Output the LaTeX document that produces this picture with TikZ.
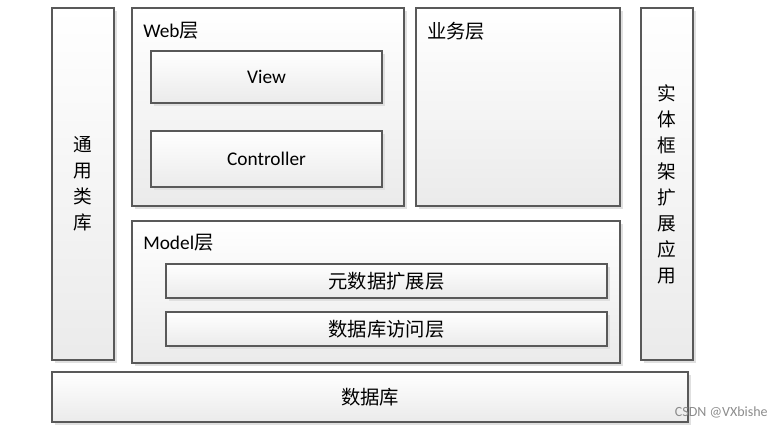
\documentclass[tikz,border=0pt]{standalone}
\usepackage{fontspec}
\setmainfont{Carlito}
\newfontfamily\cjk{Noto Sans CJK SC}
\usetikzlibrary{shadows}

\tikzset{
  layer/.style={draw=black!65, line width=0.8pt, top color=white, bottom color=black!8,
    drop shadow={shadow xshift=2.5pt, shadow yshift=-2.5pt, fill=black!12, opacity=1},
    inner sep=0pt, font=\fontsize{14.5}{17}\selectfont},
  size/.style 2 args={minimum width=#1*0.75pt, minimum height=#2*0.75pt},
  title/.style={anchor=west, inner sep=0pt, font=\fontsize{14.5}{17}\selectfont},
  cjktext/.style={font=\cjk\fontsize{14.5}{17}\selectfont},
  tall/.style={align=center, inner sep=0pt, font=\cjk\fontsize{14}{19.5}\selectfont}
}

\begin{document}
\begin{tikzpicture}[x=0.75pt, y=-0.75pt]
	\useasboundingbox (0,0) rectangle (783,427);

	% Side columns
	\node[layer, size={62}{352}] (common) at (83, 184) {};
	\node[tall] (commontext) at (common.center) {通\\用\\类\\库};
	\node[layer, size={52}{352}] (entity) at (667, 184) {};
	\node[tall] (entitytext) at (entity.center) {实\\体\\框\\架\\扩\\展\\应\\用};

	% Web layer
	\node[layer, size={272}{198}] (web) at (268, 107) {};
	\node[title] (webtitle) at (143, 31) {Web{\cjk 层}};
	\node[layer, size={231}{52}] (view) at (266.5, 77) {View};
	\node[layer, size={231}{56}] (controller) at (266.5, 159) {Controller};

	% Business layer
	\node[layer, size={204}{198}] (business) at (518, 107) {};
	\node[title, cjktext] (businesstitle) at (427, 31) {业务层};

	% Model layer
	\node[layer, size={488}{142}] (model) at (376, 292) {};
	\node[title] (modeltitle) at (143, 243) {Model{\cjk 层}};
	\foreach \y/\name/\txt in {281/meta/元数据扩展层, 329/access/数据库访问层} {
		\node[layer, size={441}{34}, cjktext] (\name) at (386.5, \y) {\txt};
	}

	% Database
	\node[layer, size={636}{50}, cjktext] (db) at (370, 397) {数据库};

	\node[anchor=east, inner sep=0pt, text=black!45, font=\fontsize{10.5}{12}\selectfont] (mark) at (768, 412) {CSDN @VXbishe};
\end{tikzpicture}
\end{document}
